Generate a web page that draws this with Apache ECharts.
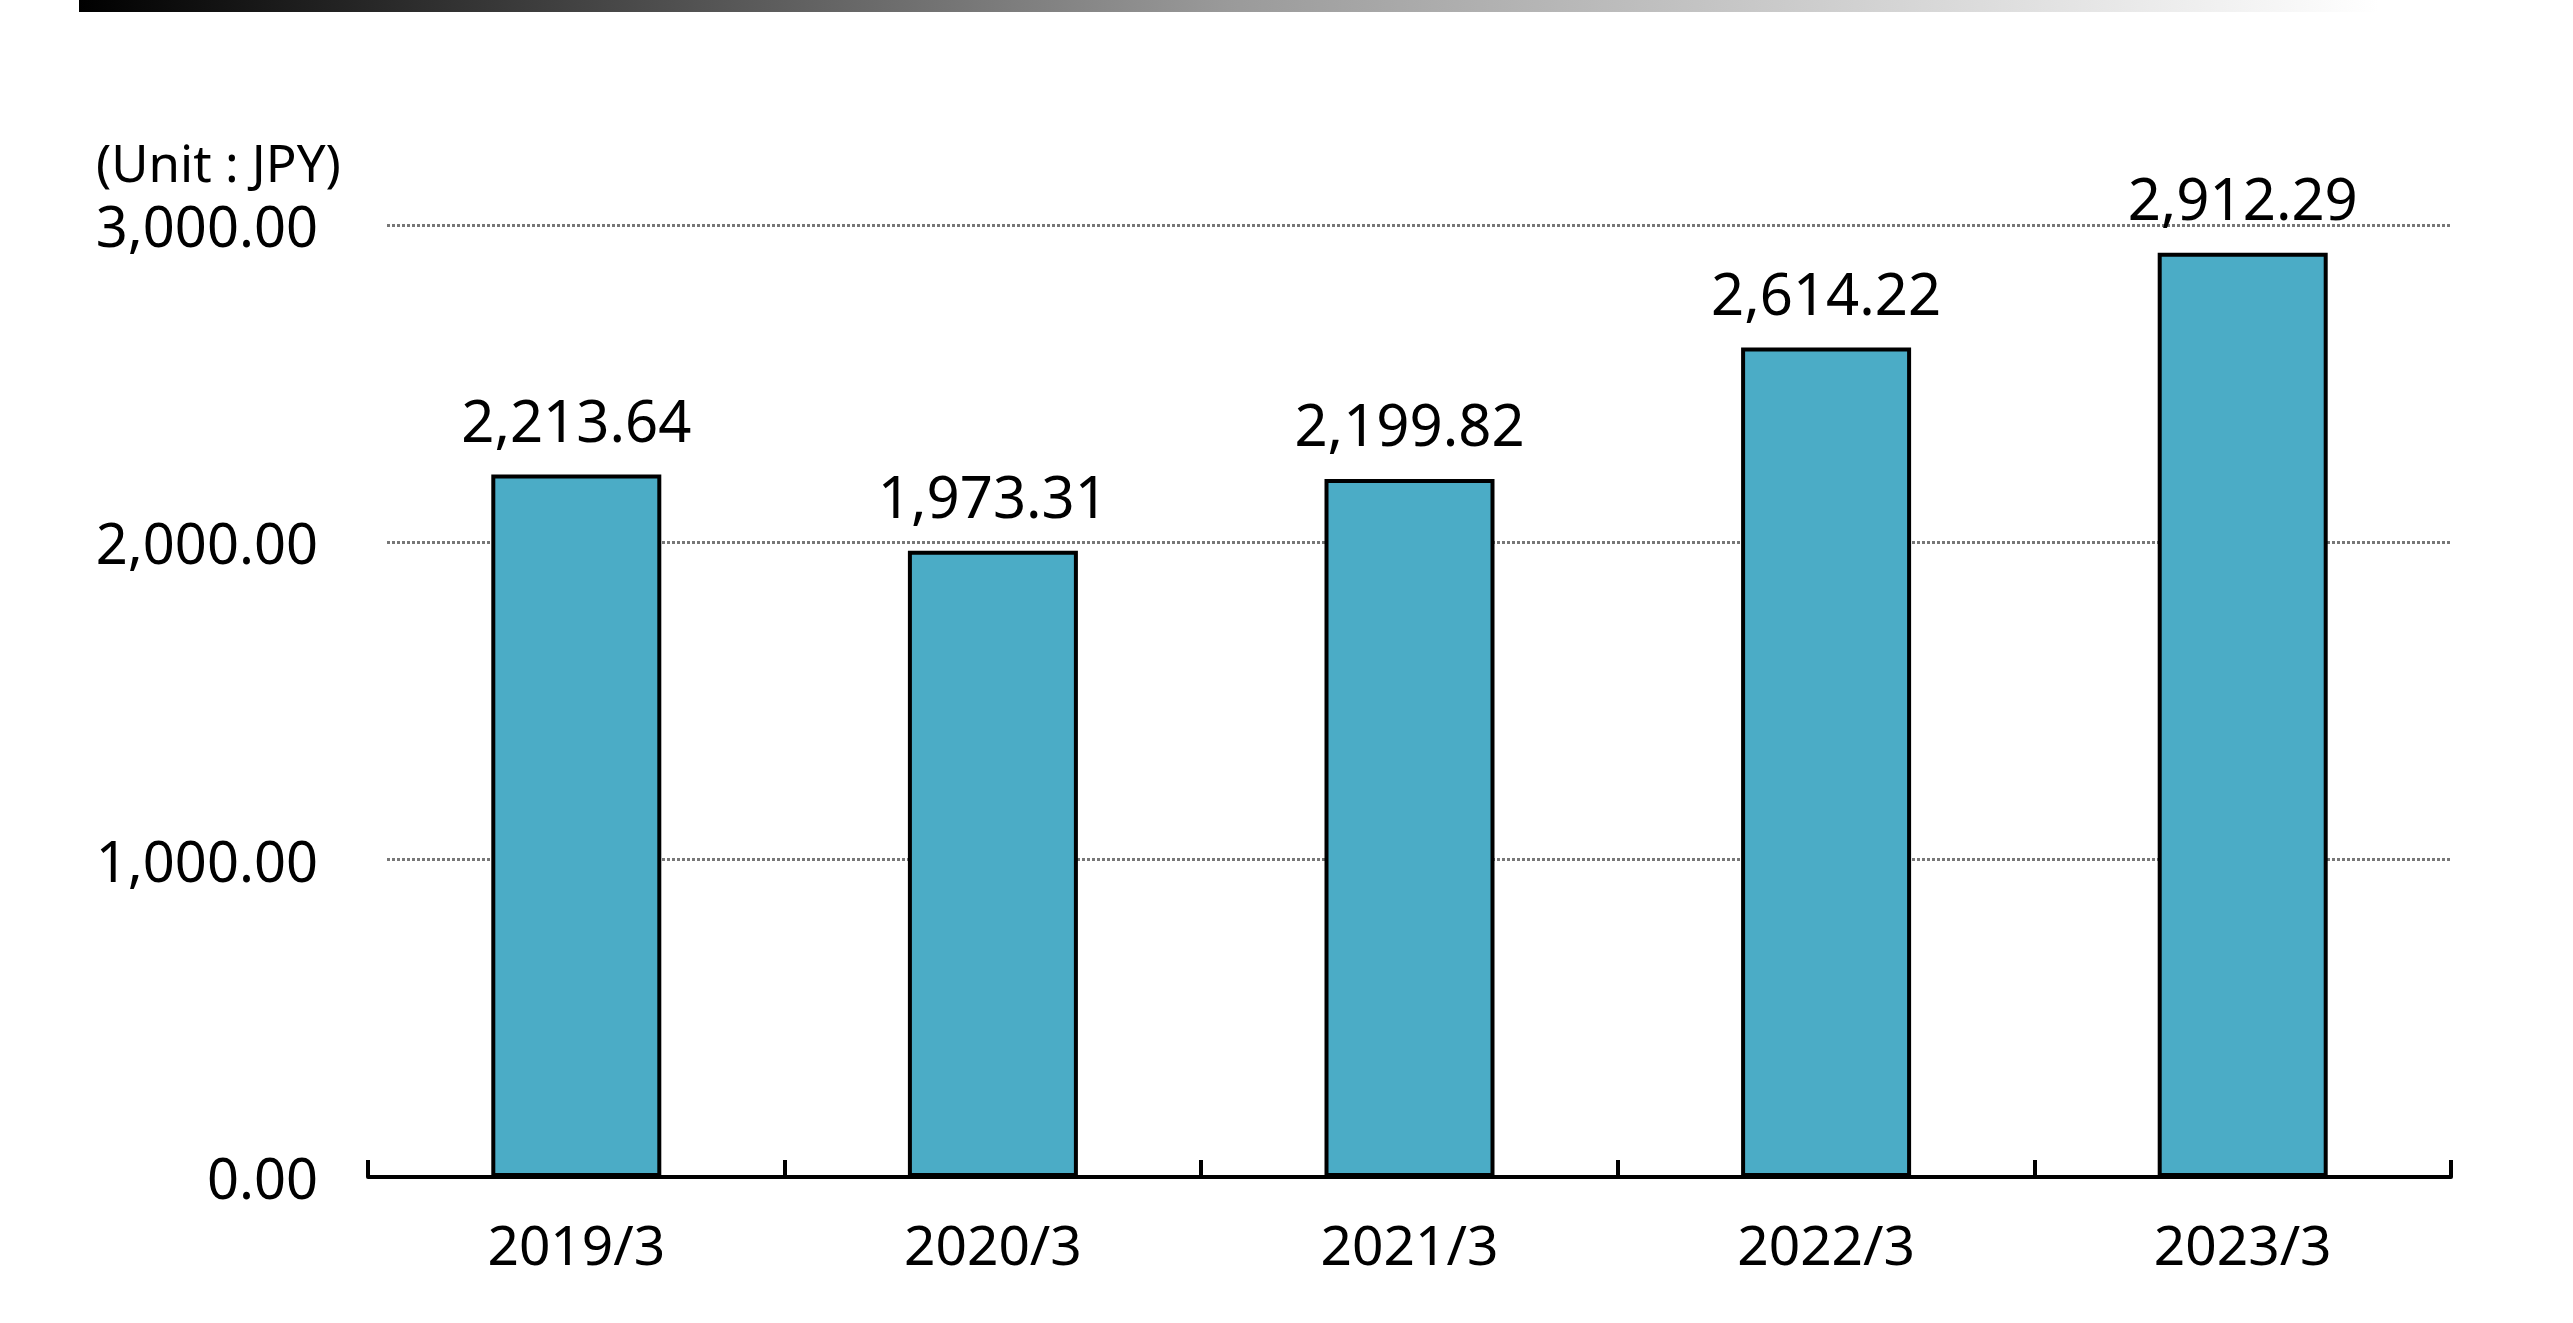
<!DOCTYPE html>
<html>
<head>
<meta charset="utf-8">
<script src="https://cdn.jsdelivr.net/npm/echarts@6/dist/echarts.min.js"></script>
<style>
html,body{margin:0;padding:0;background:#fff;}
#chart{width:2573px;height:1323px;}
</style>
</head>
<body>
<div id="chart"></div>
<script>
const categories = ['2019/3', '2020/3', '2021/3', '2022/3', '2023/3'];
const values = [2213.64, 1973.31, 2199.82, 2614.22, 2912.29];
const unitLabel = '(Unit : JPY)';
const yTicks = [0, 1000, 2000, 3000];

const FONT = '"Noto Sans", sans-serif';
const fmt = v => Number(v).toLocaleString('en-US', {minimumFractionDigits: 2, maximumFractionDigits: 2});
const yMin = yTicks[0], yMax = yTicks[yTicks.length - 1], yStep = yTicks[1] - yTicks[0];

const chart = echarts.init(document.getElementById('chart'));
chart.setOption({
  animation: false,
  backgroundColor: '#ffffff',
  grid: [
    {left: 368, right: 122, top: 225, bottom: 146, containLabel: false},
    {left: 387, right: 122, top: 225, bottom: 146, containLabel: false}
  ],
  graphic: [
    {
      type: 'rect',
      left: 79, top: 0,
      shape: {width: 2300, height: 12},
      style: {
        fill: new echarts.graphic.LinearGradient(0, 0, 1, 0, [
          {offset: 0, color: '#000000'},
          {offset: 0.5, color: '#9a9a9a'},
          {offset: 1, color: '#ffffff'}
        ])
      },
      silent: true
    },
    {
      type: 'text',
      left: 96, top: 142,
      style: {text: unitLabel, font: '51px ' + FONT, fill: '#000'}
    }
  ],
  xAxis: [
    {
      type: 'category',
      gridIndex: 0,
      data: categories,
      boundaryGap: true,
      axisLine: {lineStyle: {color: '#000', width: 4}},
      axisTick: {show: true, inside: true, length: 17, lineStyle: {color: '#000', width: 4}},
      axisLabel: {color: '#000', fontFamily: FONT, fontSize: 55, margin: 45}
    },
    {
      type: 'category',
      gridIndex: 1,
      data: categories,
      show: false
    }
  ],
  yAxis: [
    {
      type: 'value',
      gridIndex: 0,
      min: yMin,
      max: yMax,
      interval: yStep,
      axisLine: {show: false},
      axisTick: {show: false},
      axisLabel: {
        margin: 50,
        formatter: v => '{t|' + fmt(v) + '}',
        rich: {t: {color: '#000', fontFamily: FONT, fontSize: 56, padding: [12, 0, 0, 0]}}
      },
      splitLine: {show: false}
    },
    {
      type: 'value',
      gridIndex: 1,
      min: yMin,
      max: yMax,
      interval: yStep,
      axisLine: {show: false},
      axisTick: {show: false},
      axisLabel: {show: false},
      splitLine: {show: true, lineStyle: {color: '#777777', width: 3, type: [3, 2]}}
    }
  ],
  series: [{
    type: 'bar',
    xAxisIndex: 0,
    yAxisIndex: 0,
    data: values,
    barWidth: 170,
    itemStyle: {color: '#4BACC6', borderColor: '#000', borderWidth: 4},
    label: {
      show: true,
      position: 'top',
      distance: 20,
      color: '#000',
      fontFamily: FONT,
      fontSize: 58,
      formatter: p => fmt(p.value)
    }
  }]
});
</script>
</body>
</html>
